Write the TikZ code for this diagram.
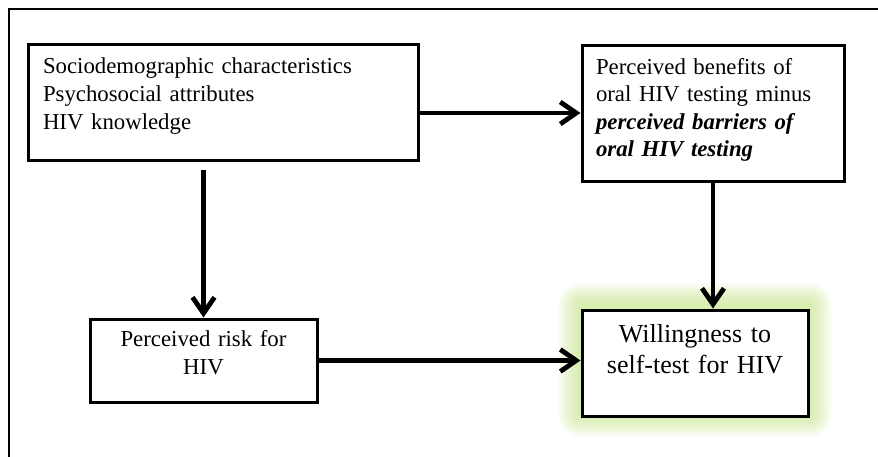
\documentclass[tikz,border=0pt]{standalone}
\usepackage{fontspec}
\setmainfont{Liberation Serif}
\usetikzlibrary{positioning, arrows.meta, backgrounds}

\definecolor{glowgreen}{RGB}{195,232,130}
\tikzset{
    factor/.style={draw, line width=1.5pt, rectangle, fill=white, font=\fontsize{11.4}{13.8}\selectfont},
    link/.style={-{Straight Barb[length=8pt, width=11pt]}, line width=2.4pt},
}

\begin{document}
\begin{tikzpicture}[x=0.5pt, y=-0.5pt]
    \useasboundingbox (0, 0) rectangle (878, 456);
    \clip (0, 0) rectangle (878, 456);
    \draw [line width=1.4pt] (9, 480) -- (9, 9) -- (900, 9);
    \node (traits) [factor, align=left, text width=180pt, inner xsep=7.5pt, minimum height=58pt, text depth=36pt] at (223, 102) {Sociodemographic characteristics\\ Psychosocial attributes\\ HIV knowledge};
    \node (benefits) [factor, align=left, text width=117pt, inner xsep=7pt, minimum height=68pt, text depth=47pt] at (713, 113) {Perceived benefits of\\ oral HIV testing minus\\ \textbf{\textit{perceived barriers of}}\\ \textbf{\textit{oral HIV testing}}};
    \node (risk) [factor, align=center, text width=100pt, inner xsep=6.75pt, minimum height=41.5pt, text depth=22pt, below=78pt of traits, xshift=-9.75pt] {Perceived risk for\\ HIV};
    \node (willing) [factor, align=center, text width=100pt, inner xsep=6.5pt, minimum height=53pt, text depth=30pt, font=\fontsize{13}{15.5}\selectfont, below=63pt of benefits.south west, anchor=north west] {Willingness to\\ self-test for HIV};
    \begin{scope}[on background layer]
        \fill [white] (0, 0) rectangle (878, 456);
        \foreach \g in {11, 10, ..., 1}
            \fill [glowgreen, opacity=0.08, rounded corners=\g pt] ([shift={(-\g pt, -\g pt)}, yshift=1.5pt]willing.south west) rectangle ([shift={(\g pt, \g pt)}, yshift=1.5pt]willing.north east);
    \end{scope}
    \draw [link] (benefits.west -| traits.east) -- (benefits.west);
    \draw [link] ([yshift=-4pt]traits.south -| risk.north) -- (risk.north);
    \draw [link] (benefits.south) -- (benefits.south |- willing.north);
    \draw [link] (risk.east) -- (risk.east -| willing.west);
\end{tikzpicture}
\end{document}
